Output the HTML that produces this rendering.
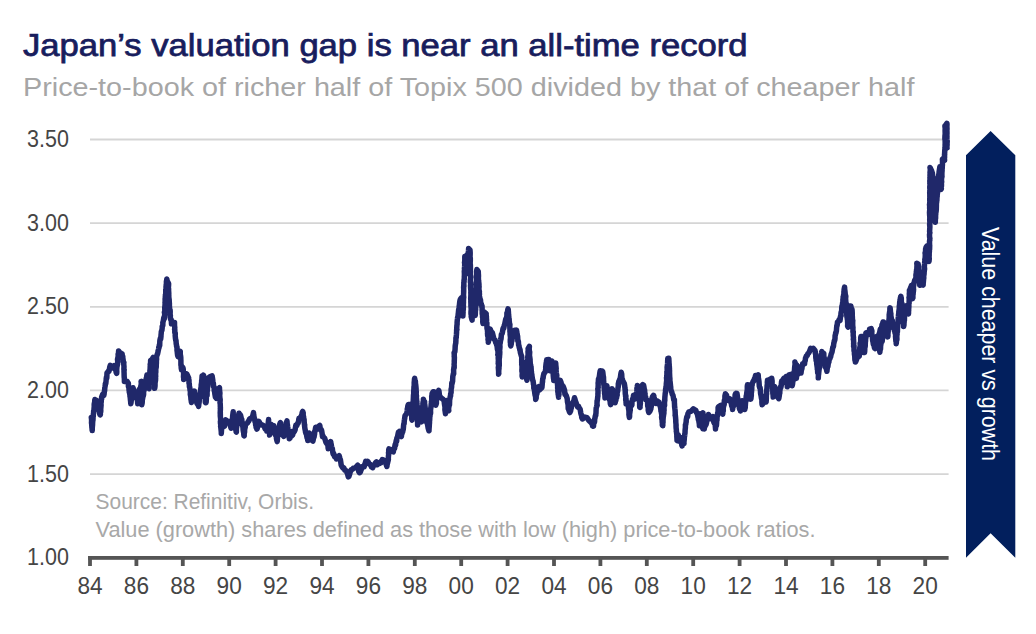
<!DOCTYPE html>
<html><head><meta charset="utf-8"><style>
html,body{margin:0;padding:0;background:#fff;}
svg{display:block;}
text{font-family:"Liberation Sans",sans-serif;}
.ax{font-size:23.8px;fill:#454545;}
</style></head><body>
<svg width="1036" height="634" viewBox="0 0 1036 634">
<rect width="1036" height="634" fill="#fff"/>
<text x="23" y="55.7" font-size="30.5" fill="#181d5d" stroke="#181d5d" stroke-width="0.75" textLength="724.5" lengthAdjust="spacingAndGlyphs">Japan’s valuation gap is near an all-time record</text>
<text x="23" y="96" font-size="25" fill="#a6a6a6" textLength="891.5" lengthAdjust="spacingAndGlyphs">Price-to-book of richer half of Topix 500 divided by that of cheaper half</text>
<line x1="90" y1="474.1" x2="948.6" y2="474.1" stroke="#d5d5d5" stroke-width="1.8"/>
<line x1="90" y1="390.4" x2="948.6" y2="390.4" stroke="#d5d5d5" stroke-width="1.8"/>
<line x1="90" y1="306.8" x2="948.6" y2="306.8" stroke="#d5d5d5" stroke-width="1.8"/>
<line x1="90" y1="223.1" x2="948.6" y2="223.1" stroke="#d5d5d5" stroke-width="1.8"/>
<line x1="90" y1="139.5" x2="948.6" y2="139.5" stroke="#d5d5d5" stroke-width="1.8"/>

<text x="27.1" y="565.1" class="ax" textLength="41.8" lengthAdjust="spacingAndGlyphs">1.00</text>
<text x="27.1" y="481.5" class="ax" textLength="41.8" lengthAdjust="spacingAndGlyphs">1.50</text>
<text x="27.1" y="397.8" class="ax" textLength="41.8" lengthAdjust="spacingAndGlyphs">2.00</text>
<text x="27.1" y="314.1" class="ax" textLength="41.8" lengthAdjust="spacingAndGlyphs">2.50</text>
<text x="27.1" y="230.5" class="ax" textLength="41.8" lengthAdjust="spacingAndGlyphs">3.00</text>
<text x="27.1" y="146.9" class="ax" textLength="41.8" lengthAdjust="spacingAndGlyphs">3.50</text>

<text x="95.5" y="509.4" font-size="21.5" fill="#a8a8a8" textLength="218.5" lengthAdjust="spacingAndGlyphs">Source: Refinitiv, Orbis.</text>
<text x="95.5" y="536.9" font-size="21.5" fill="#a8a8a8" textLength="720" lengthAdjust="spacingAndGlyphs">Value (growth) shares defined as those with low (high) price-to-book ratios.</text>
<path d="M91.3,417.4 L91.3,417.6 L91.5,418.7 L91.6,420.9 L91.5,422.7 L91.6,423.8 L91.7,424.0 L91.9,427.6 L91.9,427.1 L92.2,430.6 L92.3,427.6 L92.5,425.2 L92.6,424.7 L92.4,422.9 L92.6,423.6 L92.7,421.6 L93.0,419.7 L93.1,417.5 L93.0,416.6 L93.3,416.0 L93.3,415.1 L93.5,413.0 L93.7,412.9 L93.6,411.2 L93.9,410.8 L94.1,407.7 L94.3,405.9 L94.2,406.5 L94.2,404.4 L94.3,403.6 L94.7,402.0 L94.8,400.0 L94.9,399.5 L96.9,400.7 L97.3,403.5 L97.5,404.1 L97.6,405.7 L98.2,408.0 L98.5,407.3 L98.8,409.8 L99.0,410.6 L99.4,411.0 L99.8,414.4 L100.2,414.2 L100.4,414.8 L100.3,412.3 L100.6,412.3 L100.8,410.9 L100.7,408.3 L100.8,408.4 L101.1,404.9 L100.9,403.8 L101.0,403.3 L101.3,401.3 L101.1,400.5 L101.4,399.6 L101.7,398.7 L101.6,397.2 L102.7,394.3 L103.8,395.3 L104.1,394.1 L104.3,391.5 L104.6,390.9 L104.8,387.8 L105.0,386.8 L105.3,385.0 L105.3,384.0 L105.6,383.2 L105.8,383.4 L106.2,379.8 L106.2,379.0 L106.5,377.0 L106.8,378.2 L106.9,375.3 L107.0,372.8 L107.8,372.1 L108.8,370.6 L109.0,371.4 L109.7,367.4 L110.3,365.4 L111.6,368.0 L113.0,366.9 L114.1,365.7 L114.6,368.1 L115.2,369.4 L115.6,369.0 L116.2,372.6 L116.7,373.3 L116.8,371.8 L116.7,369.8 L116.9,367.0 L116.9,366.4 L117.1,366.3 L117.5,364.2 L117.6,364.5 L117.7,361.3 L117.5,359.6 L117.7,358.2 L117.9,358.9 L118.1,356.3 L118.2,355.9 L118.1,354.2 L118.5,353.2 L118.6,351.0 L119.9,352.7 L121.6,353.5 L122.1,353.7 L122.2,356.7 L122.6,355.7 L122.7,357.0 L123.2,360.3 L123.3,361.7 L123.9,362.6 L123.7,363.6 L123.7,363.4 L124.0,366.7 L123.9,369.0 L124.0,370.2 L124.2,369.6 L124.0,371.3 L124.1,373.5 L124.1,374.4 L124.2,377.3 L124.3,377.3 L124.4,380.1 L124.4,381.5 L125.7,381.5 L126.9,381.2 L128.4,383.3 L128.4,386.4 L128.6,386.7 L129.0,388.3 L129.0,389.5 L129.3,391.6 L129.3,392.2 L129.5,392.6 L129.9,394.6 L130.0,396.7 L130.3,397.0 L130.3,398.5 L130.5,400.4 L130.6,401.2 L130.8,403.7 L131.1,402.1 L131.4,398.9 L131.5,399.6 L131.8,395.8 L131.7,395.4 L131.9,393.4 L132.1,393.3 L132.6,392.7 L132.6,390.7 L133.0,387.7 L133.3,388.8 L133.5,390.0 L134.1,389.9 L134.8,392.2 L134.9,392.2 L135.5,393.2 L135.8,394.6 L136.4,395.1 L136.7,397.9 L136.9,399.0 L137.5,401.0 L137.7,403.8 L138.2,402.4 L138.2,398.9 L138.4,399.1 L138.7,395.8 L138.9,396.8 L139.3,393.5 L139.3,394.1 L139.6,392.1 L139.7,388.8 L140.1,388.5 L140.1,388.7 L140.7,386.9 L140.9,385.7 L141.3,384.3 L141.8,381.4 L141.2,382.5 L141.1,381.4 L141.3,383.0 L141.2,384.1 L141.2,385.6 L141.3,387.2 L141.5,388.5 L141.5,389.5 L141.5,390.3 L141.5,391.6 L141.7,394.6 L141.5,395.7 L141.8,395.9 L141.8,398.2 L141.8,400.7 L141.8,401.0 L141.9,403.8 L141.8,404.7 L142.2,402.7 L142.3,400.5 L142.4,398.5 L142.6,398.9 L142.9,395.8 L143.1,396.5 L143.6,394.6 L143.6,392.0 L143.8,391.3 L144.0,389.9 L144.2,390.0 L144.7,387.4 L144.6,387.3 L145.0,384.1 L145.2,382.9 L145.7,381.9 L146.0,380.5 L146.2,378.5 L146.6,377.5 L146.9,375.0 L147.2,377.0 L147.5,379.2 L147.8,380.9 L148.0,382.9 L148.1,382.5 L148.5,383.3 L148.6,386.1 L148.6,388.0 L149.1,388.7 L149.2,387.9 L149.0,385.7 L149.2,385.2 L149.4,383.9 L149.4,382.7 L149.5,380.8 L149.4,377.4 L149.5,377.1 L149.6,377.1 L149.8,375.2 L149.9,374.0 L149.9,370.6 L150.1,371.5 L150.1,369.5 L150.2,366.7 L150.3,365.9 L150.2,364.6 L150.5,363.1 L150.6,364.0 L150.6,360.9 L150.6,360.4 L151.9,359.7 L153.1,357.4 L153.0,359.3 L153.3,360.8 L153.3,361.3 L153.2,363.4 L153.5,366.0 L153.6,366.2 L153.6,368.0 L153.7,368.3 L153.9,369.9 L154.0,373.5 L153.8,373.4 L154.2,376.2 L154.1,375.5 L154.1,378.9 L154.2,379.1 L154.3,380.3 L154.6,380.5 L154.7,382.9 L154.8,384.9 L154.6,386.8 L154.8,385.5 L154.7,388.3 L155.0,386.4 L154.9,385.1 L155.1,385.3 L155.0,383.7 L155.4,380.5 L155.5,380.9 L155.6,378.3 L155.4,377.3 L155.7,376.5 L155.6,374.7 L155.6,372.2 L155.6,373.2 L155.8,372.2 L155.8,368.9 L156.0,367.3 L156.0,368.3 L156.3,366.5 L156.2,365.5 L156.4,363.0 L156.4,360.2 L156.5,360.1 L156.6,359.3 L156.5,356.2 L157.1,355.1 L157.2,354.4 L157.5,354.2 L158.1,351.4 L158.3,350.2 L158.6,349.1 L158.8,347.1 L159.0,348.0 L159.4,344.6 L159.7,345.7 L159.8,341.8 L159.9,340.4 L160.2,339.1 L160.3,338.3 L160.7,338.9 L161.0,336.2 L161.0,335.2 L161.2,333.4 L161.3,331.9 L161.8,330.2 L161.9,330.4 L162.2,327.8 L162.2,326.6 L162.4,325.9 L162.8,325.8 L162.9,322.0 L162.8,322.8 L163.3,320.8 L163.8,317.6 L164.3,318.6 L164.6,317.1 L164.7,313.9 L164.4,312.3 L164.6,312.6 L164.9,311.4 L164.8,310.2 L164.8,308.3 L164.7,307.6 L164.9,306.7 L165.1,303.6 L165.0,302.1 L165.2,302.1 L165.1,298.9 L165.3,299.2 L165.3,296.8 L165.5,294.8 L165.4,294.9 L165.7,294.1 L165.8,292.2 L165.7,290.2 L166.1,290.2 L166.0,286.7 L166.1,287.3 L166.2,284.7 L166.4,285.3 L166.4,281.3 L166.6,281.1 L166.8,279.0 L167.4,282.1 L167.8,281.9 L168.6,283.6 L168.6,284.7 L168.4,287.6 L168.5,289.5 L168.6,288.6 L168.6,290.6 L168.8,293.5 L168.7,293.2 L168.8,296.3 L168.8,294.8 L168.8,297.2 L169.2,300.0 L169.2,301.7 L169.3,301.0 L169.1,304.1 L169.4,302.8 L169.4,305.1 L169.4,306.4 L169.5,306.8 L169.7,309.3 L170.1,310.0 L170.2,311.7 L170.1,315.0 L170.4,315.2 L170.3,316.8 L170.6,319.5 L170.6,319.3 L171.3,319.8 L171.5,323.8 L172.0,323.0 L173.0,322.5 L174.5,322.5 L174.5,325.8 L174.5,325.3 L174.8,327.8 L174.6,329.5 L174.8,329.5 L174.8,332.4 L175.2,333.4 L175.3,333.0 L175.2,335.7 L175.5,338.6 L175.4,337.9 L175.7,340.0 L176.0,340.4 L176.2,343.5 L176.4,344.9 L176.5,345.0 L176.6,346.5 L177.0,347.0 L177.0,350.4 L177.2,349.7 L177.3,352.6 L177.6,355.2 L178.0,356.6 L178.6,352.7 L179.3,352.8 L180.3,351.5 L180.2,352.7 L180.4,354.9 L180.6,356.8 L180.6,355.9 L180.8,357.8 L180.8,359.4 L180.9,360.3 L180.9,361.8 L180.9,365.1 L181.2,364.7 L181.2,368.1 L181.3,367.2 L181.5,369.8 L182.4,367.0 L183.0,368.0 L183.3,369.5 L183.0,369.0 L183.1,370.0 L183.5,372.4 L183.6,373.1 L183.6,374.6 L183.5,376.9 L183.8,376.2 L183.7,379.1 L183.7,379.6 L184.2,377.6 L184.9,377.3 L185.6,374.7 L186.0,373.6 L187.0,374.3 L187.6,375.6 L188.6,377.8 L188.5,377.7 L188.8,380.4 L189.0,380.3 L189.0,383.4 L189.3,383.5 L189.4,386.8 L189.6,386.9 L189.8,387.8 L190.1,390.8 L190.1,389.7 L190.4,391.1 L190.3,394.5 L190.6,395.6 L190.8,397.1 L190.9,396.2 L190.9,398.7 L191.3,401.1 L191.3,401.5 L191.5,402.5 L191.7,400.5 L192.1,401.1 L192.2,398.5 L192.7,398.6 L192.8,394.8 L193.3,396.0 L193.4,391.9 L193.8,391.6 L194.1,391.0 L194.4,391.1 L194.7,392.7 L194.9,396.0 L195.4,395.4 L195.5,397.4 L196.0,398.8 L196.2,399.8 L196.9,403.1 L197.0,403.5 L197.7,403.3 L198.1,404.9 L198.6,406.3 L198.8,404.2 L198.9,403.7 L199.1,402.6 L199.3,400.6 L199.3,399.7 L199.7,397.2 L200.0,397.5 L200.1,394.4 L200.3,392.8 L200.4,392.4 L200.5,391.1 L200.8,388.6 L201.0,387.4 L201.1,388.2 L201.2,384.7 L201.3,384.4 L201.6,382.3 L201.6,383.6 L201.7,381.8 L201.6,381.0 L201.9,379.6 L202.1,375.9 L202.2,376.9 L203.4,375.2 L203.7,375.9 L203.8,377.6 L203.9,378.5 L203.8,382.2 L203.8,381.5 L204.0,383.0 L203.9,384.0 L204.0,387.5 L204.3,388.7 L204.2,389.7 L204.2,390.3 L204.5,391.1 L204.6,393.0 L204.6,395.3 L204.5,397.0 L204.9,396.6 L205.1,397.6 L205.3,400.0 L205.3,402.0 L205.5,401.6 L205.7,402.7 L206.0,401.9 L206.1,402.6 L206.3,400.3 L206.4,396.9 L206.5,395.9 L206.9,395.3 L207.1,395.3 L207.1,392.0 L207.4,390.1 L207.2,389.7 L207.4,388.5 L207.6,387.8 L207.8,385.4 L207.9,384.9 L207.9,385.0 L208.0,381.3 L208.1,381.5 L208.5,380.6 L208.5,377.8 L209.7,376.8 L212.1,375.9 L212.4,377.8 L212.8,380.2 L212.8,382.3 L213.0,382.8 L213.4,383.4 L213.5,386.4 L213.8,387.1 L214.3,387.3 L214.2,390.2 L214.5,391.7 L214.8,391.7 L214.8,393.5 L215.4,397.0 L216.4,398.3 L217.3,396.5 L217.7,394.1 L217.9,392.8 L217.8,390.4 L218.0,388.9 L218.2,389.7 L218.5,388.7 L219.5,387.7 L219.5,389.5 L219.7,391.1 L219.5,392.8 L219.9,392.8 L219.9,393.5 L219.7,395.5 L220.0,398.9 L220.0,398.4 L220.2,399.7 L220.0,402.7 L220.2,403.4 L220.3,405.6 L220.3,406.5 L220.4,407.8 L220.3,408.8 L220.4,408.8 L220.3,411.1 L220.2,413.2 L220.3,411.9 L220.3,415.9 L220.4,414.9 L220.3,415.9 L220.6,419.0 L220.6,420.6 L220.4,421.5 L220.5,423.5 L220.8,425.1 L220.6,426.4 L221.0,428.1 L220.8,427.3 L220.9,428.2 L221.3,432.0 L221.3,433.4 L221.5,430.4 L221.5,428.4 L222.0,427.3 L222.0,426.5 L222.1,424.6 L222.4,424.6 L222.7,422.0 L223.3,423.9 L223.8,425.7 L224.0,426.5 L224.5,426.2 L224.8,424.5 L225.2,421.6 L225.7,419.9 L227.8,421.5 L229.6,421.6 L230.3,425.4 L230.3,425.3 L230.9,427.7 L231.1,428.2 L231.3,427.8 L231.5,426.8 L231.6,423.3 L232.0,422.8 L231.9,421.8 L232.1,420.9 L232.5,419.6 L232.6,416.9 L232.7,415.7 L233.0,413.4 L233.2,411.8 L233.2,413.9 L233.6,415.9 L233.7,418.4 L233.8,418.5 L234.1,420.7 L234.4,421.7 L234.5,422.1 L234.6,424.9 L235.1,426.1 L235.1,426.6 L235.6,428.4 L235.6,429.5 L236.1,430.2 L236.1,431.8 L236.4,432.1 L236.4,428.6 L236.6,427.7 L236.9,425.7 L237.0,424.4 L237.4,424.6 L237.3,423.9 L237.5,420.7 L238.1,420.7 L238.3,418.3 L238.4,417.6 L238.6,415.0 L239.0,413.2 L239.3,414.1 L240.0,414.5 L240.6,415.5 L241.0,417.1 L241.4,419.0 L241.8,419.4 L241.9,421.8 L242.1,421.7 L242.4,425.1 L242.7,425.9 L242.9,427.2 L243.0,427.9 L243.1,429.7 L243.2,430.4 L243.6,432.6 L243.7,432.6 L243.8,434.5 L244.0,435.7 L244.2,435.9 L244.2,433.8 L244.6,431.6 L244.6,432.1 L244.6,429.4 L244.8,428.8 L245.3,426.7 L245.1,425.5 L245.4,424.6 L247.6,422.9 L248.4,421.1 L248.9,421.0 L249.6,418.8 L251.8,417.6 L252.5,416.9 L253.5,412.6 L253.7,415.1 L254.0,416.6 L254.4,418.8 L254.7,419.0 L255.0,421.8 L255.5,422.6 L255.6,424.7 L255.9,424.2 L256.1,427.2 L256.6,428.0 L256.8,429.1 L257.1,429.0 L257.6,426.8 L258.2,426.0 L258.5,423.2 L258.9,421.4 L260.1,423.5 L261.2,424.6 L263.1,425.3 L264.2,426.2 L265.1,428.8 L265.9,428.8 L266.7,431.0 L267.0,430.0 L267.3,427.8 L267.7,427.8 L267.6,426.3 L268.2,424.8 L268.2,423.5 L268.6,419.6 L268.5,423.9 L268.9,423.2 L268.8,424.3 L268.9,427.6 L269.1,427.1 L269.4,430.5 L269.2,432.2 L269.5,433.3 L269.6,435.0 L269.9,433.5 L269.9,431.6 L270.3,430.3 L270.5,429.3 L270.8,426.1 L270.9,424.3 L272.4,425.4 L273.8,425.7 L274.1,428.2 L274.4,430.7 L274.5,432.0 L275.0,432.6 L275.3,434.9 L275.6,434.9 L276.2,435.1 L276.4,438.1 L276.6,439.3 L277.2,441.6 L277.3,440.4 L277.5,437.5 L277.9,434.9 L278.0,435.3 L278.1,434.7 L278.3,432.2 L278.6,431.7 L278.7,429.4 L279.0,428.5 L279.4,426.4 L279.6,425.4 L279.8,423.7 L280.0,424.5 L280.3,422.7 L280.4,422.6 L280.5,424.7 L280.8,426.7 L280.8,427.8 L281.3,428.6 L281.2,429.2 L281.4,430.3 L281.9,432.8 L282.0,434.7 L283.0,435.3 L283.8,436.4 L284.1,435.0 L284.2,432.5 L284.4,431.9 L284.7,429.5 L284.7,428.0 L285.1,429.3 L285.3,426.4 L285.8,426.2 L286.1,423.2 L286.5,422.3 L287.0,420.9 L287.2,423.8 L287.2,424.1 L287.3,424.2 L287.7,427.0 L287.9,428.0 L287.7,429.3 L288.1,432.3 L288.5,432.4 L288.6,432.7 L288.9,434.4 L289.1,435.3 L289.3,438.7 L289.9,438.1 L290.4,436.4 L290.9,432.4 L291.7,431.7 L291.6,433.0 L291.3,436.2 L292.6,435.0 L293.6,431.3 L294.1,431.8 L294.6,431.0 L295.1,429.7 L295.8,425.4 L296.6,425.9 L297.9,422.8 L298.1,423.3 L298.4,422.3 L298.9,418.5 L299.2,418.6 L300.3,417.5 L301.2,416.4 L301.8,414.3 L302.4,412.0 L302.7,411.4 L303.1,412.7 L303.2,412.6 L303.2,416.0 L303.6,416.8 L303.6,417.5 L304.0,419.5 L304.1,419.3 L304.2,422.4 L304.3,423.2 L304.5,425.2 L304.7,424.8 L304.6,426.2 L304.9,428.6 L305.4,430.9 L305.5,432.1 L306.1,433.7 L306.4,433.3 L306.8,436.3 L307.1,438.1 L307.3,437.0 L307.8,440.6 L308.0,439.0 L308.6,436.0 L308.9,435.9 L309.2,433.1 L311.2,434.7 L311.7,435.3 L311.7,437.7 L312.3,437.4 L312.5,440.8 L312.9,441.1 L313.2,439.9 L313.6,437.3 L314.0,437.4 L314.3,435.6 L314.6,434.0 L314.7,431.2 L315.3,430.8 L315.2,430.1 L315.7,427.3 L317.7,427.1 L319.8,425.4 L320.4,429.8 L321.4,429.7 L321.6,430.4 L321.9,432.3 L322.3,434.8 L322.5,436.8 L322.6,435.4 L323.6,437.3 L324.7,438.3 L325.9,442.2 L326.9,443.8 L327.6,442.8 L327.9,445.5 L328.2,448.8 L328.9,446.5 L329.6,446.4 L330.2,443.5 L330.7,441.6 L331.2,445.5 L331.2,444.1 L331.5,446.4 L332.0,449.5 L332.3,448.4 L332.7,451.8 L333.1,454.0 L333.4,452.9 L334.6,456.7 L335.5,456.2 L336.4,459.0 L337.7,457.0 L339.1,455.7 L339.6,457.2 L339.8,458.6 L340.4,459.6 L340.7,461.6 L341.2,465.2 L342.0,466.6 L342.9,467.9 L343.7,467.7 L344.8,470.2 L345.7,470.5 L346.1,470.8 L346.9,472.4 L347.3,472.8 L347.6,474.0 L348.3,476.9 L348.9,476.4 L349.8,473.6 L350.2,471.8 L351.0,470.5 L351.2,469.6 L352.3,469.4 L353.3,468.2 L355.4,467.9 L357.8,465.2 L358.0,466.7 L358.3,467.8 L358.7,471.4 L359.3,472.5 L359.3,471.9 L360.0,472.5 L360.4,471.8 L361.1,469.6 L361.5,469.1 L361.8,466.7 L364.2,466.8 L364.5,465.1 L365.3,463.1 L365.7,461.4 L366.1,461.9 L367.4,461.2 L368.2,462.0 L369.5,464.3 L370.4,464.5 L371.6,467.0 L372.7,467.7 L373.6,465.1 L374.8,465.1 L375.5,462.6 L376.3,462.0 L377.4,464.7 L378.3,463.2 L379.5,463.5 L380.6,461.8 L381.3,462.5 L382.3,459.6 L383.2,459.9 L385.2,461.1 L385.9,462.5 L386.2,464.6 L386.9,466.4 L387.1,464.6 L387.5,463.3 L387.7,462.2 L388.4,459.6 L388.3,458.3 L388.5,455.4 L388.7,454.6 L388.5,452.8 L388.7,453.5 L388.7,449.9 L389.0,448.8 L390.9,450.0 L391.8,451.2 L392.6,451.4 L393.3,451.8 L393.8,448.6 L394.6,448.3 L394.9,445.8 L395.2,444.4 L395.6,445.2 L395.8,442.9 L396.3,440.3 L396.7,441.2 L396.8,438.3 L397.3,437.2 L397.5,437.0 L398.1,433.8 L398.4,432.4 L398.9,432.9 L399.5,431.3 L399.9,432.5 L400.0,432.9 L400.7,435.5 L400.8,435.4 L401.4,436.6 L401.6,434.2 L401.9,434.0 L402.1,431.5 L402.7,431.9 L403.0,430.0 L403.3,429.3 L403.6,425.3 L403.7,424.6 L403.9,423.3 L404.1,423.8 L404.3,420.4 L404.5,419.5 L404.8,417.7 L404.8,417.4 L405.0,415.8 L406.2,414.3 L406.9,412.9 L407.2,410.5 L407.3,408.9 L407.5,408.3 L407.8,406.3 L407.9,405.8 L408.4,404.5 L410.2,404.6 L410.2,406.2 L410.5,407.1 L410.7,408.2 L410.8,408.9 L410.9,411.1 L411.1,412.7 L411.2,413.4 L411.6,414.4 L411.7,416.5 L411.8,419.4 L412.0,420.1 L412.0,416.7 L412.3,416.4 L412.1,414.9 L412.3,414.6 L412.3,411.8 L412.7,412.0 L412.5,409.4 L412.6,409.1 L412.8,408.3 L412.9,406.0 L413.0,405.3 L413.1,403.1 L413.2,402.5 L413.3,399.4 L413.4,397.7 L413.4,398.1 L413.4,397.9 L413.5,394.9 L413.7,394.9 L413.7,392.1 L413.7,391.0 L413.9,389.1 L413.9,388.6 L414.0,386.5 L414.2,386.7 L414.2,384.2 L414.2,382.4 L414.3,381.9 L414.5,379.0 L414.7,378.4 L415.0,381.5 L415.4,381.2 L415.5,384.9 L415.6,383.9 L415.9,386.6 L416.1,388.7 L416.1,390.7 L416.1,390.6 L416.3,391.6 L416.2,393.5 L416.3,395.9 L416.5,396.0 L416.3,396.9 L416.5,398.8 L416.7,401.1 L416.9,401.2 L416.8,403.0 L417.0,403.5 L416.9,406.2 L416.9,406.1 L417.3,408.9 L417.1,408.1 L417.3,411.3 L417.4,413.5 L417.4,413.2 L417.2,414.2 L417.4,416.2 L417.3,416.6 L417.5,419.2 L417.5,421.7 L417.7,420.2 L417.6,423.8 L417.6,424.9 L417.7,422.3 L418.2,421.8 L418.2,419.2 L418.3,418.8 L418.4,417.7 L418.7,417.3 L418.8,414.1 L418.8,412.0 L419.4,410.6 L419.5,409.5 L419.9,410.2 L420.3,408.9 L420.2,407.9 L420.6,410.2 L420.7,411.7 L420.7,412.9 L420.8,416.2 L421.1,415.9 L421.2,417.4 L421.2,420.3 L421.5,421.9 L421.6,419.6 L421.7,416.5 L422.0,417.6 L421.9,416.4 L422.2,413.2 L422.3,413.9 L422.4,412.5 L422.4,409.5 L422.7,407.6 L422.7,408.2 L422.9,406.6 L422.9,403.4 L423.1,402.1 L423.4,401.1 L423.4,399.2 L424.0,401.3 L424.6,401.6 L424.6,405.3 L424.9,404.9 L424.9,406.4 L425.1,407.1 L425.3,409.4 L425.3,411.8 L425.4,411.9 L425.8,412.9 L425.8,416.4 L426.0,415.8 L426.1,418.9 L426.4,421.0 L426.6,422.5 L427.0,421.7 L427.2,422.9 L427.6,424.7 L428.0,427.1 L428.1,427.8 L428.5,429.4 L429.0,430.8 L428.9,430.7 L429.0,430.0 L429.1,428.3 L429.3,425.9 L429.3,423.9 L429.3,424.9 L429.5,422.9 L429.5,421.3 L429.7,419.8 L429.8,417.1 L429.9,416.2 L430.0,416.4 L430.1,414.1 L430.5,413.8 L430.6,412.7 L430.5,409.6 L430.6,409.5 L430.9,407.1 L431.0,406.7 L431.2,404.1 L431.4,403.1 L431.5,401.2 L431.4,402.1 L431.8,400.1 L431.7,396.7 L431.8,395.9 L432.0,395.1 L432.1,393.5 L433.2,391.8 L434.2,391.8 L434.4,392.2 L434.5,394.9 L434.6,394.2 L435.0,397.9 L435.0,397.1 L435.4,400.2 L435.3,400.5 L435.5,403.5 L435.7,405.3 L436.1,404.2 L436.2,403.7 L436.4,403.6 L436.4,399.9 L436.8,399.5 L437.0,398.9 L437.0,397.9 L437.2,395.3 L437.1,394.7 L437.9,392.8 L438.7,390.4 L439.0,391.4 L439.4,395.0 L439.6,395.5 L440.2,397.0 L440.4,397.1 L442.2,398.7 L443.2,399.5 L444.1,400.6 L444.4,403.6 L444.4,403.7 L444.7,405.7 L445.0,406.9 L444.9,409.9 L445.0,410.3 L445.3,412.5 L445.5,413.8 L445.5,412.1 L445.8,410.0 L446.0,409.7 L446.0,406.7 L446.2,405.0 L446.3,403.8 L446.5,403.7 L446.7,400.5 L447.0,403.0 L447.3,403.6 L447.5,404.6 L448.2,408.3 L448.2,409.7 L448.8,410.7 L448.6,409.0 L448.9,406.7 L449.1,404.7 L449.4,405.2 L449.5,404.7 L449.6,401.2 L449.6,399.5 L449.7,399.9 L450.2,397.0 L450.2,396.6 L450.6,396.0 L450.6,394.1 L451.1,392.5 L451.1,389.3 L451.4,388.3 L451.5,387.6 L451.6,387.0 L451.8,383.1 L452.1,383.5 L452.3,382.2 L452.6,381.5 L452.7,378.7 L452.8,376.6 L453.2,374.4 L453.5,373.1 L453.7,374.0 L453.6,369.8 L453.8,368.8 L454.0,366.8 L454.2,367.9 L454.2,365.2 L454.1,364.5 L454.3,362.3 L454.2,360.9 L454.3,360.6 L454.4,357.2 L454.2,356.6 L454.3,354.9 L454.1,352.7 L454.3,352.4 L454.7,352.4 L454.9,351.2 L455.1,348.8 L455.2,345.8 L455.3,346.1 L455.4,344.6 L455.8,342.9 L455.8,341.0 L455.9,341.4 L455.9,338.0 L456.3,337.4 L456.2,336.6 L456.4,335.0 L456.5,333.5 L456.6,331.7 L456.6,329.7 L456.9,329.5 L456.7,329.0 L456.9,325.4 L457.1,324.5 L457.1,324.0 L457.1,322.7 L457.2,321.2 L457.5,318.5 L457.6,317.1 L457.8,318.1 L458.0,316.3 L458.3,313.1 L458.6,313.6 L458.4,312.5 L458.7,309.2 L459.1,309.0 L459.2,306.3 L459.5,304.6 L459.5,304.0 L459.6,303.2 L459.9,300.9 L460.2,299.8 L460.5,298.9 L461.5,297.7 L462.6,297.6 L462.4,298.6 L462.5,299.9 L462.6,301.4 L462.5,301.4 L462.7,304.4 L462.8,303.1 L462.8,304.5 L462.8,308.0 L462.7,309.7 L462.9,309.0 L462.8,310.9 L463.1,312.6 L462.9,312.2 L462.9,315.9 L463.0,313.8 L463.0,312.9 L463.1,310.0 L463.3,309.9 L463.3,309.4 L463.4,305.7 L463.2,304.8 L463.3,305.6 L463.5,301.8 L463.3,302.9 L463.5,300.3 L463.5,298.3 L463.7,297.7 L463.7,297.0 L463.5,294.9 L463.5,295.3 L463.7,291.4 L463.6,291.1 L463.7,290.4 L463.7,288.4 L463.6,287.8 L463.8,284.8 L463.9,286.4 L463.8,282.6 L464.1,281.7 L464.0,281.0 L464.0,279.9 L464.2,279.8 L464.4,275.7 L464.3,276.6 L464.4,275.3 L464.4,273.6 L464.3,271.3 L464.5,271.7 L464.6,269.8 L464.4,268.8 L464.6,266.7 L464.7,264.9 L464.7,263.8 L464.5,262.3 L464.7,262.9 L464.8,259.8 L464.8,258.1 L464.8,256.5 L465.5,257.6 L466.5,255.3 L466.6,256.2 L466.6,256.8 L466.7,258.9 L466.9,260.9 L467.1,261.6 L467.1,263.7 L466.9,263.8 L467.1,267.5 L467.1,268.2 L467.2,269.8 L467.2,270.0 L467.6,270.6 L467.4,271.2 L467.4,273.3 L467.7,271.7 L467.6,270.3 L467.8,270.9 L467.8,267.6 L467.9,268.5 L467.9,264.5 L468.1,265.5 L468.0,261.9 L468.0,261.8 L468.3,260.7 L468.3,258.1 L468.2,258.3 L468.3,255.9 L468.4,254.3 L468.2,253.2 L468.3,252.5 L468.5,250.7 L468.6,248.6 L470.0,249.9 L470.2,252.9 L470.2,252.8 L470.1,256.1 L470.0,255.5 L470.0,257.0 L470.3,258.2 L470.3,260.6 L470.2,262.4 L470.2,263.9 L470.3,264.3 L470.4,265.4 L470.4,268.3 L470.4,268.3 L470.4,271.6 L470.4,270.8 L470.4,274.2 L470.3,272.7 L470.4,276.0 L470.6,276.5 L470.7,277.4 L470.6,278.3 L470.4,279.8 L470.4,282.2 L470.6,282.6 L470.8,284.5 L470.5,285.3 L470.7,288.9 L470.6,287.5 L470.8,289.5 L470.9,291.6 L470.8,292.5 L470.9,294.2 L470.8,296.8 L470.7,297.7 L470.7,298.7 L470.9,300.7 L470.8,301.2 L470.9,303.6 L471.1,304.0 L470.9,304.2 L470.9,306.1 L471.0,306.8 L471.2,309.4 L471.0,311.8 L471.0,311.9 L471.0,314.1 L471.3,313.6 L471.3,316.6 L471.2,316.5 L472.1,320.2 L472.1,318.3 L472.3,316.3 L472.4,316.3 L472.4,314.9 L472.6,313.3 L472.9,310.2 L473.0,311.3 L472.9,307.1 L473.0,308.6 L473.1,307.1 L473.2,305.3 L473.3,302.3 L473.7,300.7 L473.6,301.9 L473.9,303.1 L474.2,301.8 L474.1,305.4 L474.4,304.4 L474.5,306.3 L474.6,307.3 L474.6,311.2 L474.8,312.2 L474.9,312.3 L475.1,313.4 L475.2,315.5 L475.3,314.4 L475.4,311.2 L475.4,311.0 L475.7,309.2 L475.5,309.7 L475.7,307.7 L475.6,304.7 L475.6,303.1 L475.6,303.1 L475.7,301.9 L475.8,298.9 L475.9,299.5 L475.9,297.9 L476.0,297.8 L476.1,295.7 L476.0,293.2 L476.0,293.8 L476.1,290.7 L476.1,288.7 L476.4,286.9 L476.3,288.4 L476.2,286.1 L476.3,283.7 L476.3,282.0 L476.5,282.7 L476.6,279.1 L476.6,278.6 L476.6,278.0 L476.5,277.9 L476.4,275.9 L476.8,273.9 L476.7,274.0 L476.6,271.6 L476.9,269.5 L478.3,271.6 L478.3,273.6 L478.4,274.1 L478.5,276.1 L478.4,277.7 L478.5,280.0 L478.6,280.8 L478.7,281.4 L478.7,281.8 L479.0,284.3 L478.9,285.7 L479.1,286.2 L478.9,289.3 L479.1,290.1 L479.3,292.2 L479.4,291.0 L479.3,294.8 L479.5,294.0 L479.3,295.8 L479.7,297.6 L480.3,299.7 L480.5,299.9 L480.8,304.2 L481.3,303.9 L481.6,306.3 L482.0,305.7 L482.1,307.7 L482.1,308.7 L482.1,310.4 L482.2,310.8 L482.2,313.8 L482.3,314.0 L482.6,315.7 L482.5,316.9 L482.8,317.8 L482.8,321.5 L482.7,321.6 L483.0,323.5 L483.0,320.3 L483.2,319.8 L483.4,318.2 L483.5,317.8 L483.8,315.4 L483.8,314.6 L484.1,312.0 L486.2,313.6 L486.1,314.7 L486.1,314.2 L486.4,316.5 L486.4,318.1 L486.6,320.2 L486.4,321.0 L486.6,321.9 L486.9,323.1 L486.8,325.8 L486.9,325.9 L487.0,328.2 L487.2,329.3 L487.3,328.5 L487.5,331.3 L487.7,333.3 L487.5,333.0 L487.7,336.1 L487.8,335.2 L488.2,337.9 L488.0,339.6 L488.4,340.3 L488.3,342.2 L488.6,340.5 L489.0,339.8 L489.2,336.5 L489.1,336.2 L489.2,336.3 L489.5,332.7 L489.7,331.3 L490.1,330.9 L490.1,329.1 L490.6,330.1 L491.6,333.0 L492.3,332.7 L492.6,333.6 L493.2,336.1 L493.7,338.0 L494.2,339.2 L495.0,340.0 L495.7,342.5 L496.1,343.1 L496.7,344.9 L497.1,346.2 L497.4,349.2 L497.8,350.5 L498.0,351.4 L498.0,353.7 L498.0,354.9 L497.9,354.8 L498.1,355.0 L498.3,356.4 L498.2,358.0 L498.4,360.4 L498.3,361.6 L498.3,363.4 L498.2,363.3 L498.5,364.6 L498.6,366.2 L498.3,367.4 L498.6,371.4 L498.6,372.0 L498.6,374.2 L498.8,373.4 L498.6,373.7 L498.7,372.8 L498.8,369.7 L499.0,368.7 L499.0,366.9 L499.2,366.1 L499.2,364.3 L499.3,365.4 L499.2,361.3 L499.2,361.8 L499.2,360.2 L499.2,358.6 L499.5,357.1 L499.6,354.8 L499.7,353.5 L499.7,354.7 L499.8,352.0 L499.6,350.1 L499.8,349.1 L500.0,346.6 L499.8,347.5 L499.9,345.2 L499.8,342.6 L500.1,343.5 L500.6,340.1 L500.8,338.2 L500.9,339.6 L501.1,338.2 L501.4,334.1 L501.7,334.0 L502.1,333.6 L502.4,332.5 L502.9,329.1 L503.3,327.9 L503.7,328.6 L504.1,326.4 L504.3,325.3 L504.7,324.3 L505.0,322.7 L505.4,320.7 L505.9,318.7 L506.1,319.7 L506.5,318.0 L506.9,315.6 L506.9,313.1 L507.5,311.8 L507.6,311.7 L507.7,310.1 L508.0,308.9 L508.3,309.7 L508.3,311.1 L508.4,311.6 L508.6,315.1 L508.8,316.5 L508.8,318.0 L509.1,318.8 L509.2,319.8 L509.2,321.3 L509.3,321.2 L509.4,322.8 L509.7,323.9 L509.9,324.6 L509.8,326.4 L509.9,329.3 L510.0,328.5 L509.9,331.4 L510.2,331.1 L510.1,334.4 L510.2,334.6 L510.3,336.3 L510.4,336.3 L510.5,338.8 L510.3,339.2 L510.3,342.4 L510.6,342.0 L510.5,343.3 L510.5,344.9 L510.8,345.8 L511.3,343.9 L511.4,341.6 L511.8,341.5 L512.1,339.3 L512.1,337.9 L512.9,337.2 L513.1,335.7 L513.7,332.8 L514.4,333.1 L514.8,330.3 L515.7,331.7 L516.5,330.1 L516.7,331.5 L516.8,331.7 L517.0,334.1 L517.2,333.9 L517.4,335.9 L517.6,336.0 L517.8,339.3 L517.8,340.8 L518.0,340.2 L518.4,341.7 L518.6,345.0 L519.0,345.8 L519.2,347.4 L519.6,348.4 L519.9,350.2 L520.0,349.2 L520.4,352.7 L520.6,353.3 L521.1,355.1 L521.1,355.5 L521.5,355.6 L521.8,357.9 L521.7,359.4 L521.7,360.0 L521.7,363.2 L521.9,362.9 L521.7,364.2 L522.0,366.1 L522.0,368.5 L521.9,369.5 L521.9,371.3 L522.0,371.0 L522.3,372.6 L522.1,375.5 L522.2,376.9 L522.3,374.4 L522.6,373.1 L522.8,370.8 L522.8,369.4 L522.9,367.6 L522.9,369.1 L523.1,367.4 L523.2,364.7 L523.2,363.9 L523.6,362.5 L524.1,365.0 L524.9,365.5 L525.3,366.6 L525.5,368.9 L525.6,369.4 L525.9,369.9 L525.9,372.1 L526.2,372.9 L526.2,375.6 L526.2,376.5 L526.5,377.0 L526.6,378.9 L526.9,380.2 L526.9,376.8 L526.8,375.8 L527.1,376.7 L526.9,374.5 L527.1,371.6 L527.1,372.3 L527.2,369.6 L527.4,368.3 L527.3,367.4 L527.6,366.8 L527.6,365.5 L527.5,365.1 L527.7,363.0 L527.6,360.1 L527.8,360.7 L527.9,358.0 L527.7,357.2 L528.1,354.8 L528.1,353.5 L528.0,351.8 L528.0,351.5 L528.4,351.9 L528.1,348.6 L529.4,346.4 L529.2,348.5 L529.2,349.4 L529.4,351.1 L529.7,352.1 L529.5,355.4 L529.7,356.6 L529.8,357.8 L529.8,357.3 L530.1,359.6 L530.1,361.6 L530.2,361.8 L530.3,365.0 L530.5,364.5 L530.8,365.7 L531.0,366.4 L531.2,369.3 L531.2,371.7 L531.4,371.0 L531.5,373.2 L531.9,374.9 L532.0,376.6 L532.1,376.6 L532.6,380.0 L532.8,380.5 L533.1,381.1 L533.4,383.5 L533.4,383.9 L533.8,385.2 L533.8,388.2 L534.2,388.6 L534.5,391.1 L534.5,390.8 L534.7,392.5 L535.1,395.2 L535.4,395.8 L535.6,397.2 L535.7,399.5 L536.2,398.0 L536.2,396.1 L536.6,394.2 L536.9,393.9 L537.1,392.3 L537.3,391.0 L537.3,389.1 L537.8,387.4 L538.6,386.7 L539.6,389.9 L541.4,388.1 L541.6,386.4 L541.9,387.7 L542.2,384.6 L542.3,382.4 L542.6,381.8 L542.5,381.4 L542.7,379.0 L542.9,378.2 L543.2,378.0 L543.2,376.7 L543.9,373.6 L544.7,372.7 L545.2,372.1 L545.3,371.5 L545.5,370.3 L545.9,368.1 L545.7,367.5 L545.9,365.3 L546.2,362.7 L546.4,363.3 L546.5,361.0 L546.7,360.3 L546.7,359.8 L548.9,359.6 L549.0,359.6 L549.2,360.2 L549.2,361.8 L549.3,364.9 L549.6,365.6 L549.6,366.3 L549.8,368.0 L549.9,370.7 L550.3,368.5 L550.4,367.9 L550.7,365.3 L551.1,365.2 L551.5,364.0 L551.8,363.2 L552.0,361.2 L551.9,361.0 L552.0,364.4 L552.4,365.0 L552.4,365.5 L552.5,367.7 L552.9,368.1 L552.7,369.1 L552.9,372.6 L553.2,372.6 L553.1,372.9 L553.3,376.3 L553.5,378.3 L553.8,379.0 L553.8,380.5 L553.8,377.0 L554.2,376.8 L554.2,374.6 L554.3,375.2 L554.7,374.0 L555.0,371.1 L555.1,369.5 L555.3,369.5 L555.2,365.6 L555.4,366.0 L555.7,362.9 L555.9,366.6 L555.9,365.8 L556.2,368.7 L556.0,369.5 L556.3,372.6 L556.4,373.3 L556.4,373.5 L556.8,375.4 L556.6,377.3 L556.7,377.4 L557.0,379.9 L557.2,381.5 L557.2,380.9 L557.4,382.2 L557.5,384.5 L557.7,386.8 L557.6,387.9 L557.9,388.6 L557.8,391.3 L558.1,390.0 L558.1,394.1 L558.2,393.6 L558.5,396.2 L558.6,397.3 L558.5,394.0 L559.0,394.8 L558.8,391.3 L559.0,392.6 L559.2,390.5 L559.6,389.1 L559.7,386.7 L559.6,384.6 L559.9,383.6 L560.2,384.1 L560.0,383.0 L560.2,380.8 L560.3,380.4 L561.0,382.2 L561.2,383.4 L561.9,384.7 L562.3,385.5 L562.9,387.3 L563.2,386.4 L563.9,388.3 L564.1,388.9 L564.6,390.4 L564.9,394.2 L565.1,393.5 L565.8,395.0 L566.4,396.0 L567.2,398.6 L567.2,398.6 L567.5,402.3 L567.7,401.5 L567.8,403.5 L568.1,404.5 L568.2,408.4 L568.5,406.9 L568.4,408.6 L569.3,411.5 L569.9,412.5 L570.2,411.5 L570.6,411.0 L570.9,409.3 L571.3,408.0 L571.5,404.1 L571.9,405.2 L572.5,403.8 L573.1,402.6 L573.9,400.5 L574.5,397.8 L575.0,399.3 L575.4,401.1 L576.2,403.1 L576.7,404.9 L577.6,407.0 L578.5,406.3 L579.3,408.1 L580.1,409.0 L580.7,412.4 L580.8,413.2 L581.3,414.9 L581.6,415.1 L581.7,417.3 L582.0,418.0 L582.4,419.0 L584.9,417.1 L587.1,417.7 L588.7,420.2 L590.2,421.7 L591.9,423.5 L592.1,422.5 L592.5,425.9 L592.8,425.3 L593.5,426.2 L593.7,423.2 L594.3,422.7 L594.6,421.5 L594.7,418.6 L594.9,418.5 L595.3,415.8 L595.8,415.6 L595.8,414.2 L596.0,413.0 L596.1,409.7 L596.2,408.0 L596.6,406.8 L596.7,406.3 L597.2,405.3 L597.0,404.2 L597.1,400.9 L597.3,400.5 L597.5,399.3 L597.7,396.9 L597.9,396.3 L597.9,394.0 L597.9,393.2 L598.0,393.5 L598.0,390.5 L597.8,388.9 L598.2,387.4 L598.1,387.3 L598.2,384.6 L598.1,383.0 L598.4,382.4 L598.3,381.6 L598.5,378.7 L598.7,379.7 L599.0,378.7 L599.3,376.7 L599.5,375.5 L599.8,372.9 L600.2,370.8 L601.6,370.9 L602.1,370.9 L602.7,371.7 L602.9,373.0 L603.1,374.8 L603.3,376.6 L603.5,376.7 L603.6,380.5 L603.5,379.5 L603.7,381.2 L603.8,384.4 L603.8,384.0 L604.1,385.6 L604.1,387.8 L604.2,388.1 L604.4,390.8 L604.7,392.4 L604.5,392.9 L604.9,395.3 L605.0,397.9 L605.3,394.0 L605.6,393.9 L605.6,391.5 L606.1,390.3 L606.1,389.1 L606.7,388.3 L606.9,385.8 L607.1,387.9 L607.2,390.3 L607.6,390.0 L608.1,392.4 L608.0,392.4 L608.5,395.2 L608.5,396.4 L609.3,398.1 L609.5,399.4 L610.2,401.2 L610.5,403.1 L610.9,401.6 L611.1,399.2 L611.3,397.3 L611.2,397.2 L611.7,394.3 L611.6,392.9 L611.9,391.9 L612.0,392.4 L612.3,391.6 L612.4,389.5 L611.5,391.5 L610.7,391.3 L610.0,393.9 L609.1,395.2 L608.3,394.1 L607.5,395.2 L606.8,397.2 L606.7,397.4 L607.0,394.4 L607.3,393.9 L607.5,391.7 L607.8,391.7 L608.0,389.8 L608.3,390.6 L608.6,392.6 L608.7,392.5 L608.9,396.0 L609.1,394.8 L609.5,397.4 L609.8,397.1 L609.8,398.8 L610.1,400.9 L610.3,403.5 L610.6,404.7 L610.8,401.5 L611.0,400.5 L610.8,400.6 L611.0,396.5 L611.2,395.9 L611.6,396.2 L611.6,393.8 L611.9,393.2 L612.0,390.9 L612.0,388.7 L612.7,391.3 L613.3,393.8 L613.8,393.2 L613.8,396.7 L614.2,395.8 L614.5,397.4 L614.6,399.0 L615.0,401.3 L615.1,402.8 L615.6,400.7 L615.9,400.4 L616.0,398.2 L616.6,397.6 L616.9,394.8 L617.2,395.2 L617.1,392.8 L617.6,390.7 L617.6,391.6 L618.0,388.0 L618.1,387.0 L618.3,386.9 L618.3,383.9 L618.6,382.7 L618.9,381.1 L619.3,380.7 L619.5,379.9 L620.1,378.6 L620.4,377.4 L620.8,374.3 L621.2,372.2 L621.7,374.2 L621.9,378.2 L622.4,379.4 L622.7,380.4 L624.0,382.9 L624.0,383.7 L624.3,383.4 L624.7,385.8 L624.9,387.9 L625.0,387.2 L625.0,389.5 L625.4,390.1 L625.2,390.6 L625.3,394.0 L625.4,393.9 L625.6,396.6 L625.9,395.9 L625.7,399.9 L626.1,398.9 L626.0,401.3 L626.0,402.3 L626.2,403.2 L626.1,404.0 L627.0,402.4 L627.9,402.6 L627.9,404.2 L628.2,404.2 L628.3,405.1 L628.6,407.5 L628.4,407.6 L628.7,409.6 L628.9,410.4 L629.0,413.5 L628.9,414.1 L629.1,415.8 L629.4,417.4 L629.4,416.6 L629.6,416.6 L629.6,414.1 L629.9,412.5 L630.0,411.5 L630.1,410.7 L630.3,410.2 L630.2,408.8 L630.5,406.2 L631.2,405.8 L631.9,404.8 L632.0,401.7 L632.4,400.3 L632.5,398.9 L633.0,399.4 L633.2,398.4 L633.5,395.2 L633.9,398.0 L634.3,399.2 L634.8,399.1 L635.4,397.8 L636.0,398.5 L636.2,394.8 L636.3,394.4 L636.6,392.6 L636.8,391.8 L637.0,389.2 L636.9,388.6 L637.2,386.9 L637.4,385.4 L638.8,387.8 L639.1,390.0 L639.0,390.4 L639.3,393.3 L639.2,392.1 L639.3,395.1 L639.3,394.7 L639.6,398.7 L639.4,398.7 L639.6,399.6 L639.5,402.3 L639.8,402.7 L639.6,403.9 L639.7,407.0 L639.8,406.4 L640.1,407.3 L640.0,405.7 L640.1,405.7 L640.4,403.3 L640.2,403.7 L640.4,401.0 L640.4,399.4 L640.8,397.6 L640.6,398.1 L640.9,397.3 L640.8,396.1 L641.0,392.7 L641.0,392.6 L641.2,389.5 L641.1,390.6 L641.1,388.8 L642.0,385.5 L642.8,384.6 L643.6,385.2 L644.0,387.3 L644.3,390.2 L644.6,389.8 L644.8,393.1 L645.1,393.7 L645.0,395.6 L645.4,397.4 L645.7,397.0 L645.8,399.9 L647.2,400.1 L647.4,401.4 L647.6,402.1 L647.7,405.9 L647.9,406.5 L648.3,408.3 L648.2,410.1 L648.6,411.8 L648.8,412.5 L649.0,412.4 L649.9,411.2 L650.9,408.8 L650.9,408.0 L651.2,406.6 L651.3,406.7 L651.5,403.2 L651.7,403.6 L651.8,401.9 L651.7,401.1 L652.0,398.4 L652.1,398.0 L652.4,396.9 L653.5,395.3 L653.8,395.9 L654.0,396.9 L654.5,398.9 L654.5,399.7 L655.0,401.4 L655.1,403.3 L656.2,403.4 L657.0,400.9 L658.8,402.0 L659.6,404.3 L660.1,406.3 L660.4,405.3 L660.7,408.8 L660.8,409.1 L661.0,411.6 L661.3,410.9 L661.4,412.7 L661.8,415.1 L661.6,417.1 L661.7,417.6 L661.9,419.4 L662.1,418.9 L662.2,422.5 L662.4,422.5 L662.3,425.0 L662.7,424.9 L662.8,425.8 L662.8,422.5 L663.0,422.8 L663.0,419.5 L663.1,419.4 L663.2,417.4 L663.4,416.4 L663.4,415.9 L663.9,413.3 L663.9,410.8 L664.0,410.6 L664.1,410.3 L664.0,409.1 L664.1,405.1 L664.3,406.4 L664.6,405.3 L664.5,403.9 L664.6,400.2 L664.8,400.9 L664.8,398.9 L664.9,396.6 L665.0,396.0 L665.2,393.5 L665.2,392.9 L665.5,392.8 L665.5,390.0 L665.7,388.5 L665.9,389.3 L665.9,387.1 L666.2,386.2 L666.3,384.8 L666.3,383.9 L666.7,380.2 L666.7,380.1 L666.5,377.7 L666.8,378.2 L666.7,376.2 L666.9,376.5 L666.9,374.6 L666.9,371.5 L667.0,370.9 L667.2,369.3 L667.1,367.7 L667.2,366.3 L667.3,366.0 L667.4,364.6 L667.5,364.8 L667.6,363.4 L667.7,359.9 L667.8,358.4 L668.8,358.2 L669.0,362.2 L669.0,361.6 L669.0,362.9 L669.2,364.3 L669.1,367.1 L669.3,365.8 L669.5,369.2 L669.3,370.2 L669.6,370.9 L669.5,371.8 L669.6,374.2 L669.7,376.4 L669.6,375.9 L669.9,378.5 L669.9,379.5 L669.9,381.6 L670.0,381.3 L670.1,381.7 L670.5,385.2 L670.4,385.1 L670.7,386.9 L670.8,389.5 L671.0,389.8 L671.4,391.4 L671.8,392.1 L672.3,394.5 L672.9,395.0 L673.3,397.0 L673.8,400.1 L674.4,399.8 L674.4,402.8 L674.5,403.8 L674.5,403.8 L674.6,407.0 L674.7,406.7 L674.8,408.2 L675.1,410.9 L675.2,413.0 L675.2,414.4 L675.1,415.7 L675.3,414.8 L675.6,418.1 L675.5,417.1 L675.8,420.4 L675.8,422.4 L675.7,421.0 L675.8,422.2 L676.1,425.3 L676.0,425.2 L676.1,427.9 L676.4,430.3 L676.3,431.7 L676.5,431.3 L676.5,432.3 L676.9,436.0 L676.9,434.9 L676.8,436.2 L677.0,439.4 L677.0,440.2 L677.3,440.1 L677.5,440.8 L677.8,438.2 L678.2,437.1 L678.3,434.9 L678.8,437.6 L679.0,438.1 L679.0,438.3 L679.4,441.3 L679.9,440.0 L680.8,437.6 L680.8,439.9 L681.2,440.9 L681.5,442.5 L681.7,444.6 L682.1,445.9 L682.4,442.5 L682.7,440.8 L683.2,440.8 L683.6,442.4 L684.0,443.6 L683.9,442.5 L684.1,440.6 L684.2,440.0 L684.4,436.9 L684.7,434.9 L684.8,435.6 L684.7,434.2 L685.0,433.2 L685.1,430.2 L685.4,427.6 L685.4,426.1 L685.4,424.6 L685.8,424.2 L686.0,422.3 L686.2,422.1 L686.2,420.3 L686.6,418.1 L686.8,416.9 L687.0,417.5 L687.7,416.4 L687.9,413.7 L688.5,412.9 L688.9,411.8 L690.9,411.3 L693.3,408.8 L694.6,409.7 L695.8,410.2 L696.5,412.8 L697.0,412.8 L697.5,414.7 L698.0,417.2 L698.1,417.5 L698.4,420.0 L698.9,418.9 L698.9,421.6 L699.3,423.7 L699.4,425.7 L699.5,424.6 L701.3,423.0 L701.6,425.7 L702.2,426.3 L702.9,428.8 L702.7,426.8 L702.5,425.4 L702.2,425.3 L702.0,424.5 L701.7,422.5 L701.5,420.9 L701.0,421.0 L701.0,419.0 L700.8,416.3 L700.5,416.8 L700.4,415.8 L699.9,413.8 L700.3,414.4 L700.4,415.0 L700.8,417.5 L701.1,418.5 L701.4,421.1 L701.7,417.9 L702.1,417.1 L702.4,417.5 L702.4,414.9 L703.0,412.9 L703.0,414.0 L703.0,415.0 L703.1,416.5 L703.5,418.6 L703.7,420.3 L703.6,422.4 L703.9,422.5 L704.1,424.2 L704.1,425.3 L704.2,427.7 L704.3,429.0 L704.4,427.4 L704.9,426.6 L705.3,424.9 L705.8,425.1 L706.1,424.5 L706.6,422.3 L707.0,418.8 L707.3,418.7 L708.2,416.9 L708.5,414.6 L710.6,418.7 L712.8,417.1 L713.0,416.6 L713.4,419.9 L713.7,421.6 L714.1,422.9 L714.5,422.5 L714.9,424.0 L715.1,424.3 L715.5,428.3 L715.5,428.9 L715.7,425.8 L716.0,426.0 L716.4,425.7 L716.6,423.2 L716.7,420.5 L716.9,420.4 L717.0,420.1 L717.1,416.4 L717.3,415.0 L717.6,415.6 L717.6,413.2 L718.0,412.0 L718.1,410.5 L718.1,407.7 L718.4,406.8 L720.7,405.4 L721.1,406.8 L721.3,408.9 L721.8,409.9 L722.4,411.0 L722.8,414.2 L722.9,411.8 L723.3,410.7 L723.2,407.7 L723.4,407.1 L723.6,406.6 L723.9,404.1 L724.2,404.6 L724.3,400.8 L724.5,399.9 L724.9,399.7 L724.9,396.6 L725.0,395.1 L725.5,395.2 L725.4,393.7 L725.9,394.8 L726.5,395.0 L727.1,398.3 L727.5,398.0 L728.0,400.3 L728.5,400.6 L730.0,399.0 L730.4,401.6 L731.1,402.1 L731.7,406.2 L731.9,405.4 L732.4,406.7 L732.6,409.5 L732.9,406.5 L733.0,406.3 L733.6,406.0 L733.6,403.3 L734.0,401.0 L734.3,400.4 L734.6,398.4 L735.0,398.6 L735.1,395.1 L735.5,393.7 L735.9,393.9 L736.2,393.4 L736.4,394.0 L737.0,393.6 L737.2,394.9 L737.7,398.3 L737.8,399.6 L738.1,401.1 L738.3,403.3 L738.6,401.8 L738.7,405.4 L739.2,406.5 L739.4,408.7 L740.1,407.8 L740.4,410.9 L740.5,407.6 L740.8,408.7 L741.3,405.6 L741.4,405.6 L741.6,403.6 L741.9,402.3 L742.1,400.7 L743.2,401.9 L743.6,402.8 L743.8,404.7 L744.1,405.3 L744.2,407.6 L744.5,408.7 L744.8,409.5 L744.9,408.3 L745.2,408.2 L745.3,406.2 L745.3,406.0 L745.5,402.9 L745.6,401.6 L745.9,401.4 L746.0,399.7 L746.1,397.5 L746.3,395.6 L746.5,395.5 L746.8,392.5 L746.8,392.8 L747.1,391.0 L747.3,389.7 L747.3,386.4 L747.5,384.8 L749.2,384.9 L749.2,387.5 L749.5,386.6 L749.5,387.5 L749.8,390.7 L749.8,390.9 L749.9,392.5 L750.3,395.1 L750.5,396.3 L750.5,396.2 L750.6,399.2 L750.7,398.0 L750.9,399.0 L751.2,395.9 L751.3,396.3 L751.3,392.9 L751.5,392.1 L751.4,392.4 L751.7,389.6 L751.8,387.9 L751.7,387.0 L752.0,384.5 L752.1,385.5 L752.2,383.9 L753.2,381.1 L753.8,381.1 L754.5,378.5 L754.8,378.8 L755.5,375.5 L756.8,376.5 L758.2,374.9 L758.4,378.2 L758.7,379.2 L758.7,379.7 L759.0,381.7 L759.2,384.6 L759.3,386.3 L759.6,387.3 L759.8,387.9 L760.1,387.7 L760.5,391.4 L760.5,392.8 L760.8,394.8 L760.9,394.4 L761.2,396.6 L761.5,398.6 L761.6,398.7 L761.9,399.3 L761.9,402.6 L762.1,404.8 L762.2,404.6 L762.4,404.6 L762.8,403.5 L763.4,403.1 L763.9,401.2 L766.1,401.9 L766.3,399.6 L766.2,399.2 L766.3,399.0 L766.3,397.7 L766.4,394.7 L766.6,394.1 L766.6,391.3 L766.9,390.8 L766.7,390.4 L767.0,388.0 L767.0,388.3 L767.1,385.6 L767.4,384.1 L767.3,382.2 L767.4,382.4 L767.5,380.3 L768.4,380.4 L769.6,379.4 L771.7,378.4 L771.7,378.2 L772.1,380.9 L772.1,381.7 L772.1,382.1 L772.1,384.8 L772.4,384.9 L772.5,385.9 L772.6,387.3 L772.6,389.0 L772.8,389.8 L772.8,392.6 L772.8,393.0 L773.1,395.0 L773.2,397.0 L773.4,393.9 L773.6,394.3 L773.9,392.7 L774.1,390.4 L774.5,390.1 L774.6,386.5 L775.1,387.7 L775.8,391.9 L776.3,391.2 L776.8,392.4 L777.5,394.8 L778.0,397.4 L778.8,398.6 L779.2,396.3 L779.5,393.9 L779.8,392.9 L779.8,391.4 L780.1,389.2 L780.5,388.0 L780.5,387.0 L780.8,387.5 L781.2,385.9 L781.4,383.2 L781.6,381.3 L781.8,381.5 L783.9,378.3 L784.7,379.0 L786.0,376.6 L786.2,376.7 L786.4,379.0 L786.6,380.4 L786.5,383.4 L786.7,384.1 L787.1,384.1 L787.3,385.9 L787.3,386.8 L787.7,385.9 L787.7,384.8 L787.7,384.2 L788.1,383.1 L788.1,379.7 L788.3,379.8 L788.5,377.4 L788.6,375.3 L788.9,374.8 L790.9,374.3 L791.0,375.6 L791.2,377.2 L791.3,377.1 L791.7,379.1 L791.8,380.8 L791.9,381.8 L792.0,384.3 L792.2,385.8 L792.6,383.7 L792.9,380.9 L793.3,379.9 L793.6,380.0 L793.8,378.7 L793.9,376.8 L794.2,374.0 L794.0,373.2 L794.3,371.0 L794.4,371.7 L794.6,368.2 L794.6,368.0 L794.8,366.3 L795.0,364.8 L795.2,364.5 L796.4,366.2 L796.7,365.0 L797.2,368.0 L797.3,368.4 L797.6,370.0 L797.9,371.2 L798.0,373.9 L797.6,372.1 L797.1,371.3 L797.0,368.6 L796.5,369.1 L796.0,368.1 L795.9,364.5 L795.3,363.3 L794.9,362.0 L795.1,363.9 L795.2,365.9 L795.4,368.3 L795.6,367.7 L795.6,368.7 L795.8,370.4 L796.0,373.8 L796.3,373.5 L796.1,376.5 L796.4,378.4 L796.6,375.3 L796.8,375.9 L797.2,373.1 L797.4,372.8 L797.8,370.6 L797.8,369.1 L798.4,367.8 L798.5,366.9 L799.1,368.3 L799.7,369.5 L800.6,369.4 L801.0,373.1 L801.5,369.0 L801.7,369.5 L802.1,367.5 L802.1,365.6 L802.6,365.4 L802.7,363.7 L804.6,363.7 L804.7,361.7 L805.2,360.8 L805.5,358.0 L806.0,357.1 L806.4,355.8 L807.2,355.5 L807.9,353.6 L808.7,353.0 L809.6,351.2 L810.6,348.4 L811.9,349.4 L813.2,348.3 L815.0,350.5 L815.3,352.1 L815.3,353.0 L815.7,354.6 L815.8,357.5 L815.9,358.6 L816.0,358.1 L816.1,360.4 L816.6,361.0 L816.7,364.1 L816.8,363.6 L817.0,365.8 L817.4,368.6 L817.3,369.0 L817.5,368.8 L817.7,372.8 L817.8,373.2 L818.1,373.1 L818.4,374.6 L818.3,377.8 L818.4,375.4 L818.6,374.3 L818.8,371.9 L819.0,370.3 L819.1,369.3 L819.5,367.7 L819.8,367.2 L819.7,365.3 L820.1,363.3 L820.2,362.1 L820.5,361.7 L820.6,361.7 L820.6,357.9 L821.0,358.1 L821.2,355.9 L821.3,354.2 L821.5,353.2 L821.7,351.9 L821.8,351.6 L823.5,353.8 L823.8,353.4 L823.8,355.7 L824.1,357.7 L824.3,358.2 L824.6,359.1 L824.8,362.4 L825.0,363.9 L824.9,364.9 L825.2,364.5 L825.5,367.2 L826.3,368.7 L826.9,371.3 L827.3,368.0 L827.7,366.4 L827.9,366.5 L828.1,364.9 L828.4,362.9 L828.9,362.1 L829.1,359.3 L829.9,358.6 L830.1,357.3 L830.6,357.1 L831.0,354.7 L831.3,353.6 L831.5,353.5 L832.1,351.6 L832.5,349.3 L832.8,347.2 L833.1,347.3 L833.5,346.2 L833.8,343.1 L834.1,342.4 L834.3,340.6 L834.7,340.6 L835.0,338.6 L835.1,335.6 L835.5,334.4 L835.7,332.6 L835.9,333.1 L836.1,332.2 L836.4,330.9 L836.6,327.9 L836.8,325.8 L837.0,325.6 L837.1,325.8 L837.5,321.9 L838.5,321.4 L839.2,319.6 L840.0,320.5 L840.3,318.6 L840.4,316.6 L840.9,315.5 L841.1,315.7 L840.9,314.2 L841.1,312.4 L841.6,311.0 L841.7,310.0 L841.7,307.9 L841.9,306.2 L842.1,305.8 L842.4,304.7 L842.6,302.9 L842.9,302.2 L842.9,299.4 L843.2,298.3 L843.1,296.8 L843.5,297.3 L843.6,295.1 L843.9,294.1 L843.9,291.8 L844.2,290.0 L844.1,289.5 L844.6,287.1 L844.7,290.3 L844.7,289.4 L845.0,291.4 L845.3,294.7 L845.3,295.5 L845.5,295.0 L845.8,296.4 L845.6,298.5 L845.7,299.9 L845.9,302.6 L846.0,303.6 L846.2,304.1 L846.1,304.6 L846.3,306.1 L846.4,307.8 L846.4,309.4 L846.7,309.5 L846.6,310.2 L846.6,311.6 L846.8,315.4 L847.0,317.1 L847.2,317.4 L847.2,317.1 L847.3,319.2 L847.5,320.0 L847.6,322.3 L847.7,323.8 L847.6,326.1 L848.0,327.1 L847.9,325.8 L848.2,325.7 L848.2,321.6 L848.4,322.1 L848.2,321.6 L848.5,320.2 L848.4,318.0 L848.5,315.8 L848.7,315.5 L848.6,314.0 L848.9,312.7 L849.0,311.4 L849.1,308.5 L849.0,308.8 L849.1,308.7 L849.2,306.0 L850.9,306.1 L851.2,308.8 L851.2,308.3 L851.8,308.9 L852.1,310.2 L852.3,313.9 L852.2,314.0 L852.3,316.3 L852.4,317.4 L852.4,318.7 L852.7,320.6 L852.8,320.4 L852.7,322.2 L852.7,324.8 L852.7,325.4 L853.0,327.9 L852.8,327.3 L853.0,330.6 L852.9,331.7 L853.1,332.2 L853.3,332.1 L853.2,333.7 L853.2,335.5 L853.5,337.6 L853.3,339.6 L853.5,339.0 L853.7,342.4 L853.6,344.0 L853.8,343.2 L853.6,346.5 L854.0,345.5 L854.0,348.9 L854.0,350.4 L854.3,350.2 L854.4,353.4 L854.4,354.0 L854.7,355.8 L854.8,355.5 L854.8,357.6 L854.9,359.9 L855.4,359.4 L855.4,362.1 L855.9,361.2 L856.9,358.6 L857.3,357.4 L859.3,356.2 L859.4,354.0 L859.3,353.2 L859.7,351.2 L859.5,351.6 L859.7,350.0 L859.8,347.4 L860.1,347.9 L860.2,345.3 L860.1,343.6 L860.3,343.6 L860.6,342.2 L860.7,340.6 L860.7,338.3 L860.9,336.6 L862.7,336.4 L862.7,337.9 L863.1,340.3 L863.1,340.8 L863.4,343.8 L863.4,344.0 L863.7,344.3 L863.6,345.2 L863.8,348.5 L863.8,348.8 L864.3,350.2 L864.2,352.6 L864.5,352.5 L864.4,352.0 L864.7,351.5 L864.8,348.4 L864.8,347.0 L864.9,346.3 L865.2,346.3 L865.3,343.7 L865.4,341.4 L865.5,341.6 L865.6,339.6 L865.8,337.1 L865.8,338.2 L865.8,336.9 L865.8,335.4 L866.0,333.1 L866.0,332.9 L867.1,332.5 L868.0,334.7 L868.3,334.0 L868.8,334.1 L869.3,332.0 L869.6,329.1 L871.2,328.6 L871.5,329.8 L871.9,331.1 L871.8,332.5 L871.9,335.4 L872.2,335.6 L872.4,336.2 L872.5,338.3 L872.7,341.1 L872.9,340.2 L872.9,341.4 L873.4,344.7 L873.9,344.4 L874.2,346.4 L874.5,348.1 L874.6,348.1 L875.1,348.6 L875.1,348.0 L875.5,344.8 L875.4,344.2 L875.8,341.8 L875.8,341.3 L876.0,340.7 L876.4,337.9 L876.5,336.5 L876.7,337.7 L877.2,340.0 L877.5,341.1 L877.8,343.3 L878.0,344.2 L878.3,345.0 L878.9,347.7 L879.2,348.9 L879.4,349.3 L879.9,352.2 L880.0,349.6 L880.5,349.2 L880.6,346.4 L880.6,346.2 L880.8,344.9 L881.0,343.6 L881.3,342.4 L881.6,339.7 L881.7,337.2 L881.9,335.8 L881.9,335.6 L882.1,334.1 L882.1,334.2 L882.3,332.8 L882.5,329.4 L882.7,328.6 L882.7,326.6 L882.8,327.3 L883.1,326.0 L883.2,324.9 L883.4,322.1 L883.5,321.9 L883.1,322.0 L882.5,323.7 L882.0,324.9 L881.8,326.9 L881.1,328.6 L880.7,329.9 L880.3,329.2 L879.8,331.7 L879.4,334.1 L879.2,333.5 L878.7,336.0 L878.2,335.9 L877.9,339.3 L878.9,336.1 L880.4,334.3 L880.8,337.9 L881.0,339.1 L881.5,338.1 L882.0,340.3 L882.2,341.3 L882.3,340.0 L882.4,339.1 L882.6,338.3 L882.7,337.2 L883.0,336.5 L882.9,335.7 L883.2,333.3 L883.2,331.3 L883.2,331.6 L883.5,328.0 L883.7,329.0 L883.5,327.1 L883.7,325.3 L884.1,323.4 L884.1,323.0 L885.8,324.7 L886.1,327.2 L886.2,327.8 L886.3,327.9 L886.6,328.9 L886.9,330.4 L887.2,331.6 L887.3,335.3 L887.4,334.8 L887.8,336.9 L888.0,335.2 L887.9,335.8 L887.9,334.5 L888.2,330.8 L888.2,331.7 L888.2,330.2 L888.5,328.5 L888.5,325.3 L888.8,324.0 L888.8,324.5 L888.7,323.1 L888.9,321.9 L888.8,321.2 L889.0,319.5 L889.2,318.2 L889.2,316.0 L889.2,314.6 L889.3,314.4 L889.6,311.7 L889.8,312.0 L889.9,308.1 L889.9,308.7 L890.1,307.9 L890.4,310.5 L890.5,313.0 L890.5,312.0 L890.9,314.1 L890.8,315.1 L891.3,318.2 L891.2,317.8 L891.9,320.7 L892.3,320.5 L892.7,324.3 L893.0,324.1 L893.3,327.3 L893.7,328.6 L894.4,329.4 L894.4,330.7 L895.0,331.6 L895.0,333.0 L895.4,333.3 L895.6,335.6 L895.5,336.4 L895.7,339.1 L895.9,341.2 L896.1,341.5 L896.4,342.0 L896.2,343.8 L896.4,341.8 L896.5,340.2 L896.8,340.2 L896.9,339.5 L896.9,338.4 L896.8,337.0 L896.9,335.1 L897.1,334.5 L897.0,331.8 L897.4,331.9 L897.5,328.5 L897.3,327.1 L897.6,327.7 L897.6,326.5 L897.7,324.5 L898.0,323.5 L898.0,322.0 L898.1,321.2 L898.2,318.0 L898.3,317.6 L898.4,316.7 L898.5,314.9 L898.7,313.6 L899.0,311.4 L898.8,312.0 L899.1,309.9 L899.3,308.4 L899.3,306.0 L899.6,307.5 L899.6,304.7 L899.7,302.1 L900.1,303.1 L900.0,300.0 L900.4,300.3 L900.4,297.7 L900.5,297.6 L900.9,296.4 L900.8,296.9 L901.3,298.7 L901.3,298.3 L901.3,301.4 L901.5,303.0 L901.9,303.4 L902.2,306.1 L902.3,305.0 L902.3,307.3 L902.3,310.1 L902.6,309.0 L902.5,311.0 L902.7,312.3 L902.8,315.1 L902.8,316.2 L902.9,318.2 L903.2,317.6 L903.2,318.3 L903.2,321.2 L903.4,321.7 L903.3,322.3 L903.6,323.8 L903.6,326.5 L904.0,324.8 L903.9,323.7 L904.1,322.9 L904.2,320.0 L904.4,320.6 L904.5,317.1 L904.6,315.8 L904.9,314.9 L905.3,313.7 L905.4,312.4 L905.8,312.6 L905.9,311.3 L906.1,310.2 L906.5,308.0 L906.7,305.5 L907.0,308.8 L907.4,309.7 L907.8,310.6 L908.1,311.0 L908.5,314.0 L908.6,310.6 L908.7,310.5 L908.6,308.6 L908.7,309.0 L908.9,306.1 L908.8,304.7 L908.9,303.5 L909.1,303.4 L909.1,302.4 L909.2,298.7 L909.0,297.5 L909.2,297.2 L909.4,296.0 L909.3,293.6 L909.6,293.8 L909.4,290.3 L910.1,289.6 L910.5,287.8 L910.9,287.2 L911.4,285.6 L911.3,286.7 L911.7,290.5 L911.8,291.0 L911.8,291.2 L911.9,294.7 L912.1,295.0 L912.4,295.2 L912.5,298.8 L912.6,297.9 L912.9,298.0 L912.9,295.2 L913.2,293.7 L913.0,292.7 L913.3,292.1 L913.4,291.4 L913.6,289.3 L913.4,289.0 L913.5,286.1 L913.7,285.6 L914.0,282.8 L913.9,283.7 L914.7,280.2 L915.3,281.1 L915.8,277.9 L916.0,277.1 L915.9,275.2 L916.1,273.8 L916.2,273.7 L916.4,271.9 L916.6,269.6 L916.5,270.8 L916.8,269.4 L916.9,266.8 L917.0,265.6 L916.8,263.3 L916.9,263.8 L917.5,263.6 L918.1,263.9 L918.6,267.2 L918.7,268.8 L918.7,267.9 L918.9,270.8 L918.9,271.1 L918.9,273.9 L919.1,275.2 L919.2,275.1 L919.3,277.7 L919.5,277.8 L919.6,279.3 L919.7,281.7 L919.7,281.8 L919.7,284.7 L920.0,284.3 L919.8,285.3 L920.4,283.4 L920.5,283.5 L920.6,282.1 L920.8,280.8 L920.8,280.4 L921.1,276.7 L921.5,276.8 L921.7,275.5 L922.0,272.2 L921.8,274.1 L922.2,275.2 L922.3,278.4 L922.3,279.1 L922.7,281.1 L922.7,281.6 L922.8,284.4 L923.2,285.0 L923.1,283.8 L923.3,282.7 L923.4,281.6 L923.6,279.0 L923.7,278.7 L923.8,277.9 L923.7,276.4 L924.1,273.8 L924.2,271.5 L924.2,271.9 L924.5,269.5 L924.6,269.0 L924.3,266.1 L924.4,266.1 L924.6,263.9 L924.7,262.0 L924.9,262.9 L924.9,260.4 L924.8,259.6 L924.9,259.4 L925.2,257.3 L925.3,254.0 L925.1,253.5 L925.1,252.4 L925.5,252.3 L925.6,249.1 L926.1,247.3 L926.8,246.2 L927.6,245.7 L927.8,247.8 L927.9,248.4 L928.1,250.9 L928.2,251.5 L928.2,252.3 L928.2,254.1 L928.6,254.6 L928.8,258.0 L928.9,259.1 L928.9,258.5 L929.0,261.5 L929.3,258.4 L929.0,257.8 L929.1,257.2 L929.1,256.7 L929.2,255.6 L929.2,252.4 L929.2,253.1 L929.4,251.4 L929.3,249.2 L929.6,249.3 L929.7,245.3 L929.5,246.7 L929.6,245.3 L929.5,241.2 L929.8,240.6 L929.7,239.6 L929.7,240.0 L929.9,238.5 L929.6,237.0 L929.5,234.5 L929.9,232.7 L929.7,232.3 L929.6,231.4 L929.8,228.2 L929.9,226.8 L929.8,226.4 L929.6,224.2 L929.9,225.1 L929.7,223.7 L929.9,222.8 L929.7,219.5 L929.7,220.3 L929.8,218.1 L929.8,216.0 L929.7,216.0 L929.6,214.7 L929.5,212.4 L929.7,209.9 L929.9,209.5 L929.6,208.1 L929.7,206.8 L929.5,204.5 L929.8,203.3 L929.7,203.9 L929.9,202.8 L929.7,198.9 L929.9,199.3 L929.8,196.2 L929.8,195.5 L929.9,196.4 L929.7,192.4 L929.9,191.1 L929.8,190.8 L930.1,189.1 L929.8,188.2 L929.8,186.7 L930.0,185.1 L930.0,183.3 L929.8,183.3 L930.0,182.9 L929.8,181.0 L930.1,178.5 L929.9,177.9 L930.1,176.2 L930.0,175.5 L930.1,173.4 L930.0,172.1 L930.1,172.1 L930.3,169.7 L930.0,167.4 L931.7,170.9 L931.8,172.2 L932.3,172.7 L932.5,174.2 L932.6,176.9 L932.7,176.8 L933.2,177.4 L933.2,180.0 L933.5,181.8 L933.6,183.3 L933.4,182.9 L933.5,185.3 L933.6,187.0 L933.9,187.4 L934.1,189.4 L934.3,190.6 L934.3,192.5 L934.2,194.6 L934.3,194.3 L934.5,197.6 L934.6,196.4 L934.6,199.5 L934.8,199.3 L934.8,201.4 L934.8,202.8 L934.8,205.9 L935.0,206.9 L935.0,207.6 L934.8,206.9 L935.1,210.2 L935.0,210.4 L934.9,213.5 L935.1,212.1 L935.0,214.4 L934.9,217.6 L935.3,218.5 L935.0,218.6 L935.1,220.8 L935.3,222.3 L935.4,219.0 L935.2,217.6 L935.6,218.5 L935.6,215.4 L935.8,213.8 L935.7,212.1 L936.1,212.0 L936.1,211.9 L936.1,211.1 L936.3,209.6 L936.4,205.8 L936.4,204.9 L936.4,203.9 L936.7,201.7 L936.6,200.6 L936.9,200.4 L936.9,199.2 L937.0,197.3 L937.0,197.2 L937.2,196.3 L937.2,194.9 L937.5,192.8 L937.5,191.4 L937.5,188.7 L937.6,187.5 L937.7,187.9 L938.0,186.3 L937.9,185.3 L938.2,183.7 L938.1,182.2 L938.3,180.0 L938.3,180.5 L938.6,179.4 L938.5,176.1 L938.8,174.1 L938.8,174.3 L939.0,174.1 L939.1,171.9 L939.2,171.1 L939.9,166.7 L940.2,170.5 L940.0,169.8 L940.1,172.8 L940.1,172.2 L940.3,173.5 L940.3,176.0 L940.4,176.2 L940.5,178.3 L940.6,180.2 L940.7,181.3 L940.6,184.2 L940.9,184.5 L940.8,185.1 L941.1,187.1 L941.0,189.5 L941.3,188.8 L941.2,188.8 L941.1,186.8 L941.4,186.5 L941.5,185.0 L941.4,182.1 L941.4,183.0 L941.7,181.9 L941.5,180.2 L941.6,177.6 L941.7,177.9 L942.0,176.5 L941.9,175.5 L941.9,173.0 L942.1,170.6 L942.1,168.8 L942.3,167.7 L942.1,166.6 L942.3,166.3 L942.4,165.5 L942.5,162.2 L942.5,160.7 L942.4,159.3 L943.8,157.9 L944.6,160.4 L944.4,157.7 L944.6,157.3 L944.5,154.6 L944.7,154.8 L944.6,154.0 L944.7,152.0 L944.8,149.9 L945.0,148.7 L944.9,147.8 L945.1,147.8 L945.1,145.1 L945.1,144.0 L945.2,143.7 L945.1,140.1 L945.0,139.4 L944.9,139.1 L944.9,137.5 L945.0,135.3 L945.1,134.8 L945.2,134.3 L945.1,130.7 L945.1,130.1 L945.2,128.6 L944.9,126.0 L945.0,126.1 L946.9,123.3 L947.0,124.5 L946.9,126.9 L947.0,128.4 L947.0,129.3 L946.9,129.5 L947.0,133.7 L946.9,133.1 L946.9,135.6 L947.0,137.1 L946.8,136.4 L946.9,138.4 L947.0,139.8 L947.2,141.2 L947.0,144.1 L947.1,144.3 L947.1,144.8 L946.8,148.0 L947.0,147.9" fill="none" stroke="#20286a" stroke-width="5.5" stroke-linejoin="round" stroke-linecap="round"/>
<rect x="88.1" y="556" width="860.5" height="3.8" fill="#555"/>
<rect x="88.1" y="556" width="3.8" height="10" fill="#555"/>
<rect x="134.5" y="556" width="3.8" height="10" fill="#555"/>
<rect x="180.9" y="556" width="3.8" height="10" fill="#555"/>
<rect x="227.3" y="556" width="3.8" height="10" fill="#555"/>
<rect x="273.7" y="556" width="3.8" height="10" fill="#555"/>
<rect x="320.1" y="556" width="3.8" height="10" fill="#555"/>
<rect x="366.5" y="556" width="3.8" height="10" fill="#555"/>
<rect x="412.9" y="556" width="3.8" height="10" fill="#555"/>
<rect x="459.3" y="556" width="3.8" height="10" fill="#555"/>
<rect x="505.7" y="556" width="3.8" height="10" fill="#555"/>
<rect x="552.1" y="556" width="3.8" height="10" fill="#555"/>
<rect x="598.5" y="556" width="3.8" height="10" fill="#555"/>
<rect x="644.9" y="556" width="3.8" height="10" fill="#555"/>
<rect x="691.3" y="556" width="3.8" height="10" fill="#555"/>
<rect x="737.7" y="556" width="3.8" height="10" fill="#555"/>
<rect x="784.1" y="556" width="3.8" height="10" fill="#555"/>
<rect x="830.5" y="556" width="3.8" height="10" fill="#555"/>
<rect x="876.9" y="556" width="3.8" height="10" fill="#555"/>
<rect x="923.3" y="556" width="3.8" height="10" fill="#555"/>

<text x="77.4" y="593.7" class="ax" textLength="25.2" lengthAdjust="spacingAndGlyphs">84</text>
<text x="123.8" y="593.7" class="ax" textLength="25.2" lengthAdjust="spacingAndGlyphs">86</text>
<text x="170.2" y="593.7" class="ax" textLength="25.2" lengthAdjust="spacingAndGlyphs">88</text>
<text x="216.6" y="593.7" class="ax" textLength="25.2" lengthAdjust="spacingAndGlyphs">90</text>
<text x="263.0" y="593.7" class="ax" textLength="25.2" lengthAdjust="spacingAndGlyphs">92</text>
<text x="309.4" y="593.7" class="ax" textLength="25.2" lengthAdjust="spacingAndGlyphs">94</text>
<text x="355.8" y="593.7" class="ax" textLength="25.2" lengthAdjust="spacingAndGlyphs">96</text>
<text x="402.2" y="593.7" class="ax" textLength="25.2" lengthAdjust="spacingAndGlyphs">98</text>
<text x="448.6" y="593.7" class="ax" textLength="25.2" lengthAdjust="spacingAndGlyphs">00</text>
<text x="495.0" y="593.7" class="ax" textLength="25.2" lengthAdjust="spacingAndGlyphs">02</text>
<text x="541.4" y="593.7" class="ax" textLength="25.2" lengthAdjust="spacingAndGlyphs">04</text>
<text x="587.8" y="593.7" class="ax" textLength="25.2" lengthAdjust="spacingAndGlyphs">06</text>
<text x="634.2" y="593.7" class="ax" textLength="25.2" lengthAdjust="spacingAndGlyphs">08</text>
<text x="680.6" y="593.7" class="ax" textLength="25.2" lengthAdjust="spacingAndGlyphs">10</text>
<text x="727.0" y="593.7" class="ax" textLength="25.2" lengthAdjust="spacingAndGlyphs">12</text>
<text x="773.4" y="593.7" class="ax" textLength="25.2" lengthAdjust="spacingAndGlyphs">14</text>
<text x="819.8" y="593.7" class="ax" textLength="25.2" lengthAdjust="spacingAndGlyphs">16</text>
<text x="866.2" y="593.7" class="ax" textLength="25.2" lengthAdjust="spacingAndGlyphs">18</text>
<text x="912.6" y="593.7" class="ax" textLength="25.2" lengthAdjust="spacingAndGlyphs">20</text>

<polygon points="966,155.3 990.6,130.9 1015.3,155.3 1015.3,557.7 990.6,533.2 966,557.7" fill="#021f5d"/>
<text transform="translate(981.5,227) rotate(90)" font-size="23.5" fill="#fff" textLength="234" lengthAdjust="spacingAndGlyphs">Value cheaper vs growth</text>
</svg>
</body></html>
